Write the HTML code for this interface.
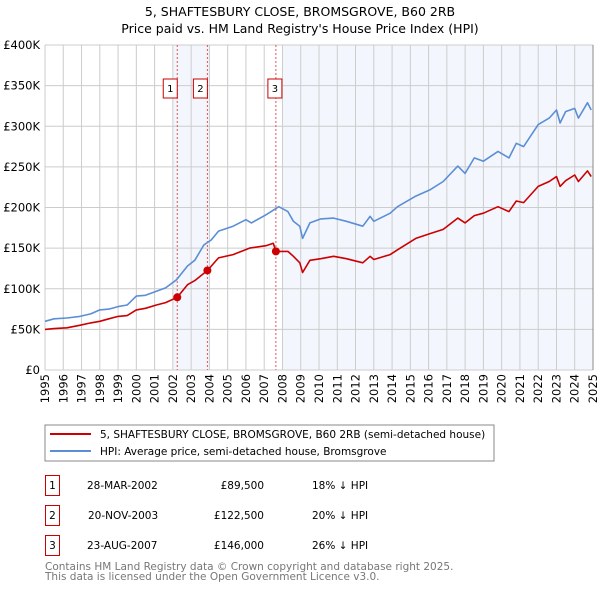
<!DOCTYPE html>
<html><head><meta charset="utf-8"><style>
body{margin:0;background:#fff;width:600px;height:590px;overflow:hidden;font-family:"DejaVu Sans","Liberation Sans",sans-serif;}
svg text{font-family:"DejaVu Sans","Liberation Sans",sans-serif;}
</style></head><body>
<svg id="c" width="600" height="590" xmlns="http://www.w3.org/2000/svg">
<text x="300" y="16" text-anchor="middle" font-size="12.5">5, SHAFTESBURY CLOSE, BROMSGROVE, B60 2RB</text>
<text x="300" y="33" text-anchor="middle" font-size="12.5">Price paid vs. HM Land Registry's House Price Index (HPI)</text>
<g id="plot"></g>
<rect x="45" y="425" width="449" height="36" fill="#fff" stroke="#888"/>
<line x1="50" y1="434" x2="91" y2="434" stroke="#cc0000" stroke-width="2"/>
<text x="100" y="438" font-size="10.5">5, SHAFTESBURY CLOSE, BROMSGROVE, B60 2RB (semi-detached house)</text>
<line x1="50" y1="451" x2="91" y2="451" stroke="#5b8ed6" stroke-width="2"/>
<text x="100" y="455" font-size="10.5">HPI: Average price, semi-detached house, Bromsgrove</text>
<g font-size="10.5">
<rect x="45.5" y="475.5" width="14" height="20" fill="none" stroke="#cc0000"/><text x="52.5" y="489" text-anchor="middle">1</text>
<text x="87" y="489">28-MAR-2002</text><text x="264" y="489" text-anchor="end">£89,500</text><text x="312" y="489">18% ↓ HPI</text>
<rect x="45.5" y="505.5" width="14" height="20" fill="none" stroke="#cc0000"/><text x="52.5" y="519" text-anchor="middle">2</text>
<text x="88" y="519">20-NOV-2003</text><text x="264" y="519" text-anchor="end">£122,500</text><text x="312" y="519">20% ↓ HPI</text>
<rect x="45.5" y="535.5" width="14" height="20" fill="none" stroke="#cc0000"/><text x="52.5" y="549" text-anchor="middle">3</text>
<text x="87" y="549">23-AUG-2007</text><text x="264" y="549" text-anchor="end">£146,000</text><text x="312" y="549">26% ↓ HPI</text>
</g>
<text x="45" y="570" font-size="10.5" fill="#777">Contains HM Land Registry data © Crown copyright and database right 2025.</text>
<text x="45" y="580" font-size="10.5" fill="#777">This data is licensed under the Open Government Licence v3.0.</text>
</svg>
<script>
const hpiYears=[1995,1995.5,1996.2,1996.9,1997.5,1998,1998.5,1999,1999.5,2000,2000.5,2001.1,2001.6,2002.2,2002.8,2003.2,2003.7,2004.1,2004.5,2005.3,2006,2006.3,2007.1,2007.8,2008.3,2008.6,2008.95,2009.1,2009.5,2010.1,2010.8,2011.5,2012.4,2012.8,2013,2013.9,2014.3,2015.3,2016.1,2016.8,2017.6,2018,2018.5,2019,2019.8,2020.4,2020.8,2021.2,2022,2022.6,2023,2023.2,2023.5,2024,2024.2,2024.7,2024.9];
const hpiValues=[60,63,64,66,69,74,75,78,80,91,92,97,101,111,128,135,154,160,171,177,185,181,191,201,195,183,177,162,181,186,187,183,177,189,183,193,201,214,222,232,251,242,261,257,269,261,279,275,302,310,320,304,318,322,310,329,320];
const paidYears=[1995,1995.5,1996.2,1996.9,1997.5,1998,1998.5,1999,1999.5,2000,2000.5,2001.1,2001.6,2002.24,2002.8,2003.2,2003.89,2004.5,2005.3,2006.2,2007.1,2007.5,2007.64,2008.3,2008.6,2008.95,2009.1,2009.5,2010.1,2010.8,2011.5,2012.4,2012.8,2013,2013.9,2014.3,2015.3,2016.1,2016.8,2017.6,2018,2018.5,2019,2019.8,2020.4,2020.8,2021.2,2022,2022.6,2023,2023.2,2023.5,2024,2024.2,2024.7,2024.9];
const paidValues=[50,51,52,55,58,60,63,66,67,74,76,80,83,89.5,105,110,122.5,138,142,150,153,156,146,146,140,132,120,135,137,140,137,132,140,136,142,148,162,168,173,187,181,190,193,201,195,208,206,226,232,238,226,233,240,232,245,238];
const sales=[[2002.24,89500],[2003.89,122500],[2007.64,146000]];
const yTicks=[0,50,100,150,200,250,300,350,400];
const yTickLabels=["£0","£50K","£100K","£150K","£200K","£250K","£300K","£350K","£400K"];
const xTicks=[1995,1996,1997,1998,1999,2000,2001,2002,2003,2004,2005,2006,2007,2008,2009,2010,2011,2012,2013,2014,2015,2016,2017,2018,2019,2020,2021,2022,2023,2024,2025];
const shades=[[2002,2004],[2008,2025]];
const X0=45,X1=593,Y0=370,Y1=45;
const xs=y=>X0+(y-1995)/30*(X1-X0);
const ys=v=>Y0-v/400*(Y0-Y1);
const NS="http://www.w3.org/2000/svg";
const g=document.getElementById('plot');
function mk(t,a){const e=document.createElementNS(NS,t);for(const k in a)e.setAttribute(k,a[k]);g.appendChild(e);return e;}
shades.forEach(s=>{const r=mk('rect',{x:xs(s[0]),y:Y1,width:xs(s[1])-xs(s[0]),height:Y0-Y1,fill:'#eef3fc',opacity:0.7});

});
yTicks.forEach((v,i)=>{const l=mk('line',{x1:X0,x2:X1,y1:ys(v),y2:ys(v),stroke:'#ccc'});


const t=mk('text',{x:X0-5,y:ys(v)+4,'text-anchor':'end','font-size':'11.5'});t.textContent=yTickLabels[i];

});
xTicks.forEach(y=>{const l=mk('line',{x1:xs(y),x2:xs(y),y1:Y1,y2:Y0,stroke:'#ccc'});


const px=xs(y)+4,py=Y0+4;
const t=mk('text',{x:px,y:py,'text-anchor':'end','font-size':'11.5',transform:'rotate(-90 '+px+' '+py+')'});t.textContent=y;

});
sales.forEach((s,i)=>{const l=mk('line',{x1:xs(s[0]),x2:xs(s[0]),y1:Y1,y2:Y0,stroke:'#e05555','stroke-dasharray':'2,2'});


const bx=xs(s[0])-(i==2?1:7);
const r=mk('rect',{x:bx-7,y:79,width:14,height:19,fill:'#fff',stroke:'#cc0000'});


const t=mk('text',{x:bx,y:92,'text-anchor':'middle','font-size':'10'});t.textContent=i+1;

});
function path(xa,va,col,name){const d=xa.map((y,i)=>(i?'L':'M')+xs(y).toFixed(1)+','+ys(va[i]).toFixed(1)).join('');
const p=mk('path',{d:d,fill:'none',stroke:col,'stroke-width':1.6,'stroke-linejoin':'round'});

}
path(hpiYears,hpiValues,'#5b8ed6','hpi-line');
path(paidYears,paidValues,'#cc0000','price-paid-line');
sales.forEach(s=>{const c=mk('circle',{cx:xs(s[0]),cy:ys(s[1]/1000),r:4,fill:'#cc0000'});

});
const ax=mk('line',{x1:X1,x2:X1,y1:Y1,y2:Y0,stroke:'#888'});


</script>
</body></html>
